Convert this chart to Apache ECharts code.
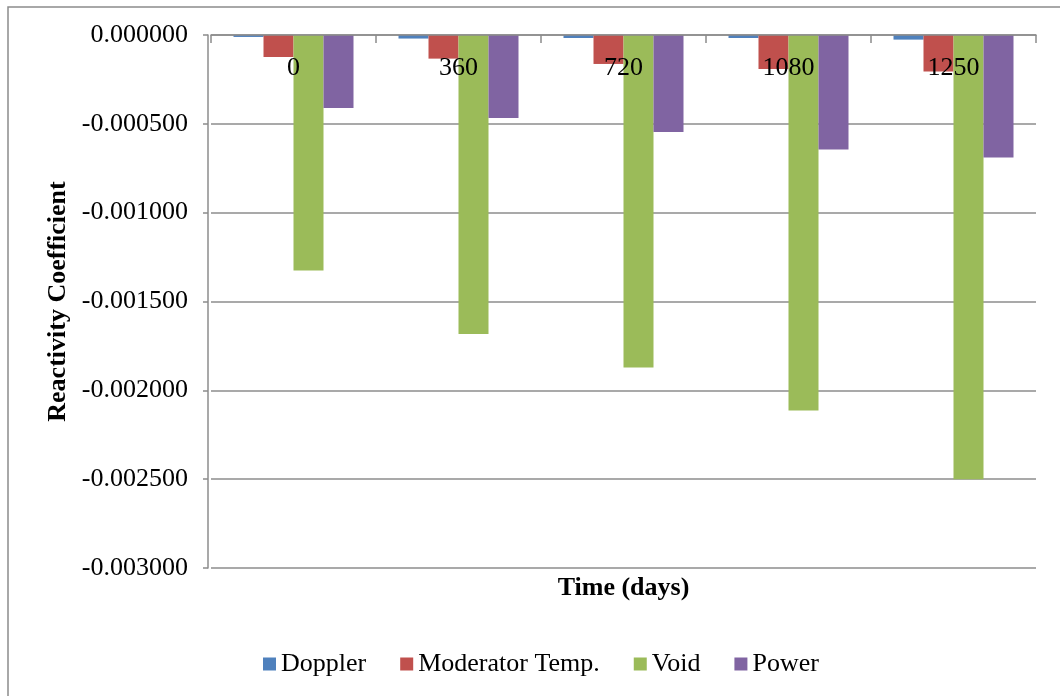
<!DOCTYPE html>
<html><head><meta charset="utf-8">
<script src="https://cdn.jsdelivr.net/npm/echarts@6/dist/echarts.min.js"></script>
<style>html,body{margin:0;padding:0;background:#fff}#c{width:1060px;height:696px}</style>
</head><body><div id="c"></div>
<script>
const categories = ['0', '360', '720', '1080', '1250'];
const doppler = [-0.000011, -0.000020, -0.000017, -0.000017, -0.000026];
const moderator = [-0.000124, -0.000133, -0.000163, -0.000191, -0.000205];
const voidCoef = [-0.001325, -0.001683, -0.001871, -0.002113, -0.002500];
const power = [-0.000411, -0.000467, -0.000546, -0.000644, -0.000690];
const yTicks = { min: -0.003, max: 0, interval: 0.0005 };

const font = '"Liberation Serif", "Times New Roman", serif';
const chart = echarts.init(document.getElementById('c'), null, { renderer: 'canvas' });
const mk = (name, data, color) => ({
  name, type: 'bar', data, barWidth: 30, barGap: '0%', z: 2,
  itemStyle: { color }, emphasis: { disabled: true }
});
chart.setOption({
  animation: false,
  backgroundColor: '#fff',
  textStyle: { fontFamily: font },
  graphic: [{
    type: 'rect', shape: { x: 8, y: 7, width: 1070, height: 720 },
    style: { fill: 'none', stroke: '#8c8c8c', lineWidth: 1.5 }, silent: true
  }],
  grid: { left: 211, right: 24, top: 35, bottom: 128 },
  legend: {
    left: 263, top: 651, padding: 0, itemWidth: 13, itemHeight: 13, itemGap: 34,
    icon: 'rect',
    textStyle: { fontFamily: font, fontSize: 26, color: '#000' },
    data: ['Doppler', 'Moderator Temp.', 'Void', 'Power']
  },
  xAxis: {
    type: 'category', data: categories, position: 'top', z: 5,
    name: 'Time (days)', nameLocation: 'middle', nameGap: -566,
    nameTextStyle: { fontFamily: font, fontSize: 26, fontWeight: 'bold', color: '#000' },
    axisLine: { show: true, lineStyle: { color: '#8c8c8c', width: 1.5 } },
    axisTick: { show: true, inside: true, length: 8, lineStyle: { color: '#8c8c8c', width: 1.5 } },
    axisLabel: { inside: true, margin: 20, fontFamily: font, fontSize: 26, color: '#000' },
    splitLine: { show: false }
  },
  yAxis: {
    type: 'value', min: yTicks.min, max: yTicks.max, interval: yTicks.interval,
    offset: 3,
    name: 'Reactivity Coefficient', nameLocation: 'middle', nameGap: 136, nameRotate: 90,
    nameTextStyle: { fontFamily: font, fontSize: 26, fontWeight: 'bold', color: '#000' },
    axisLine: { show: true, lineStyle: { color: '#8c8c8c', width: 1.5 } },
    axisTick: { show: true, length: 5, lineStyle: { color: '#8c8c8c', width: 1.5 } },
    axisLabel: { margin: 20, fontFamily: font, fontSize: 26, color: '#000', formatter: v => v.toFixed(6) },
    splitLine: { show: true, lineStyle: { color: '#8c8c8c', width: 1.5 } }
  },
  series: [
    mk('Doppler', doppler, '#4F81BD'),
    mk('Moderator Temp.', moderator, '#C0504D'),
    mk('Void', voidCoef, '#9BBB59'),
    mk('Power', power, '#8064A2')
  ]
});
</script></body></html>
